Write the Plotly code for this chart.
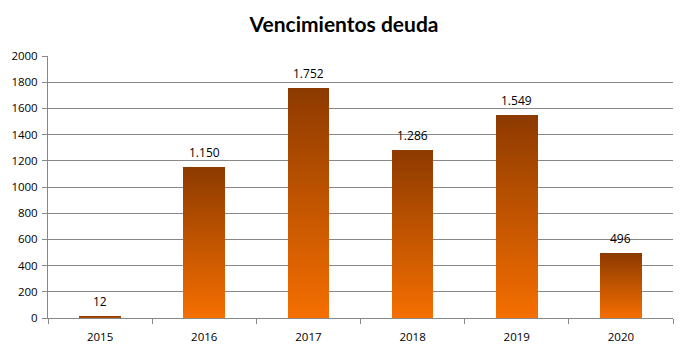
import plotly.graph_objects as go

years = ["2015", "2016", "2017", "2018", "2019", "2020"]
values = [12, 1150, 1752, 1286, 1549, 496]
labels = ["12", "1.150", "1.752", "1.286", "1.549", "496"]

top_rgb = (0x8E, 0x3B, 0x00)
bottom_rgb = (0xF4, 0x6E, 0x00)
N = 48

font_fam = "Open Sans, Liberation Sans, sans-serif"

fig = go.Figure()
for i in range(N):
    t = i / (N - 1)
    c = tuple(round(bottom_rgb[k] + (top_rgb[k] - bottom_rgb[k]) * t) for k in range(3))
    fig.add_trace(go.Bar(
        x=years, y=[v / N for v in values],
        marker=dict(color="rgb(%d,%d,%d)" % c, line=dict(width=0)),
        width=0.4, showlegend=False, hoverinfo="skip",
    ))

for idx, (v, lab) in enumerate(zip(values, labels)):
    fig.add_annotation(x=idx, y=v, text=lab, showarrow=False, yanchor="bottom", yshift=4,
                       font=dict(family=font_fam, size=12, color="#000"))

fig.update_layout(
    width=688, height=352,
    barmode="stack", bargap=0.6,
    paper_bgcolor="white", plot_bgcolor="white",
    margin=dict(l=48, r=15, t=56, b=34),
    title=dict(text="<b>Vencimientos deuda</b>", x=0.5, xanchor="center", y=0.93, yanchor="middle",
               font=dict(family="Lato, Open Sans, sans-serif", size=21, color="#000")),
    xaxis=dict(type="category", categoryorder="array", categoryarray=years,
               showline=True, linecolor="#888", linewidth=1, automargin=False,
               ticks="outside", tickson="boundaries", ticklen=5, tickcolor="#888",
               ticklabelstandoff=8,
               tickfont=dict(family=font_fam, size=11.5, color="#000"),
               showgrid=False),
    yaxis=dict(range=[0, 2000], dtick=200, showline=True, linecolor="#888", linewidth=1,
               automargin=False,
               ticks="outside", ticklen=5, tickcolor="#888", ticklabelstandoff=2,
               gridcolor="#888", gridwidth=1, zeroline=False,
               tickfont=dict(family=font_fam, size=11.5, color="#000")),
)

fig.write_html("out.html")
